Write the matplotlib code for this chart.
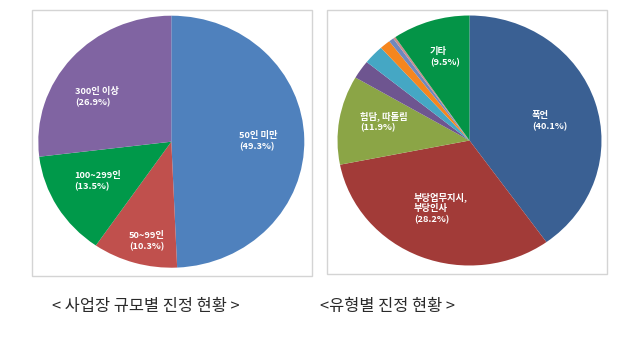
import matplotlib
matplotlib.use("Agg")
import matplotlib.pyplot as plt
from matplotlib.patches import Rectangle

plt.rcParams['font.family'] = ['Noto Sans CJK KR', 'DejaVu Sans']

# ---- data: left pie (workplace size) ----
size_categories = ["50인 미만", "50~99인", "100~299인", "300인 이상"]
size_values = [49.3, 10.3, 13.5, 26.9]
size_labels = ["50인 미만\n(49.3%)", "50~99인\n(10.3%)", "100~299인\n(13.5%)", "300인 이상\n(26.9%)"]
size_colors = ["#4F81BD", "#C0504D", "#00994A", "#8064A2"]

# ---- data: right pie (type) ----
type_categories = ["폭언", "부당업무지시, 부당인사", "험담, 따돌림", "기타1", "기타2", "기타3", "기타4", "기타5", "기타"]
type_values = [40.1, 31.8, 11.5, 2.4, 2.5, 1.3, 0.6, 0.3, 9.5]
type_labels = ["폭언\n(40.1%)", "부당업무지시,\n부당인사\n(28.2%)", "험담, 따돌림\n(11.9%)", "", "", "", "", "", "기타\n(9.5%)"]
type_colors = ["#3A6093", "#A23B38", "#8BA546", "#6E5590", "#45A7C4", "#F5861F", "#6F88BE", "#C98F8C", "#049447"]

W, H = 640, 364
fig = plt.figure(figsize=(W / 100, H / 100), dpi=100)
fig.patch.set_facecolor("white")


def fx(x):
    return x / W


def fy(y):
    return 1 - y / H


def box(x0, y0, x1, y1):
    fig.patches.append(Rectangle((fx(x0), fy(y1)), fx(x1 - x0), (y1 - y0) / H,
                                 transform=fig.transFigure, fill=False,
                                 edgecolor="#D4D4D4", linewidth=1.0))


def pie_axes(cx, cy, rx, ry, values, colors):
    ax = fig.add_axes([fx(cx - rx), fy(cy + ry), 2 * rx / W, 2 * ry / H])
    ax.pie(values, colors=colors, startangle=90, counterclock=False,
           wedgeprops=dict(linewidth=0))
    ax.set_aspect('auto')
    ax.set_xlim(-1, 1)
    ax.set_ylim(-1, 1)
    ax.axis('off')
    return ax


box(32, 10, 312, 276)
box(327, 10, 607, 274)

pie_axes(171.3, 141.7, 133, 126, size_values, size_colors)
pie_axes(469.5, 140.5, 132, 125, type_values, type_colors)

lab_kw = dict(color="white", fontsize=6.7, fontweight="bold", ha="left", va="top",
              linespacing=1.3)

# left labels (positions: top-left of text block)
size_pos = [(239, 131), (129, 231), (74, 171), (75, 87)]
for (x, y), t in zip(size_pos, size_labels):
    fig.text(fx(x), fy(y), t, **lab_kw)

type_pos = [(532, 111), (414, 192), (360, 111), None, None, None, None, None, (430, 47)]
for p, t in zip(type_pos, type_labels):
    if p is None or not t:
        continue
    fig.text(fx(p[0]), fy(p[1]), t, **lab_kw)

title_kw = dict(fontsize=11.8, color="#2A2A2A", ha="center", va="center")
fig.text(fx(146), fy(306), "< 사업장 규모별 진정 현황 >", **title_kw)
fig.text(fx(387), fy(306), "<유형별 진정 현황 >", **title_kw)

fig.savefig("out.png", dpi=100)
